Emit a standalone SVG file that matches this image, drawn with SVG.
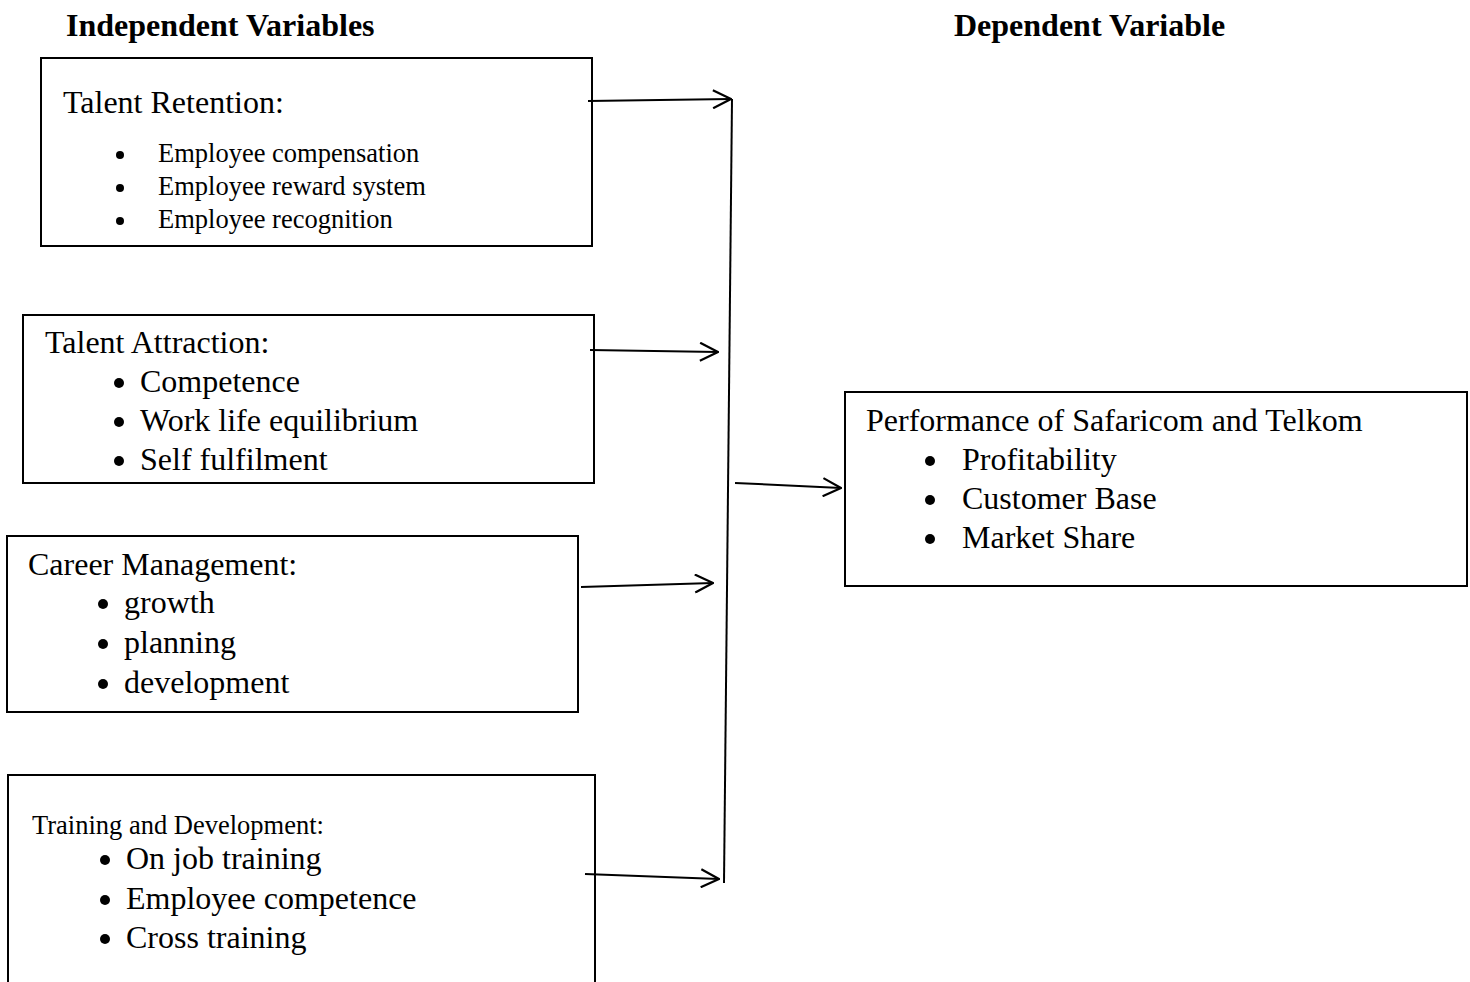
<svg xmlns="http://www.w3.org/2000/svg" width="1470" height="982" viewBox="0 0 1470 982">
<defs>
<style>
.box{fill:none;stroke:#000;stroke-width:2}
.t{font-family:"Liberation Serif","Times New Roman",serif;fill:#000}
.h{font-size:32px;font-weight:bold}
.m{font-size:32px}
.s{font-size:26.5px}
.c{stroke:#000;stroke-width:2;fill:none}
</style>
<marker id="ah" viewBox="0 0 20 20" refX="19" refY="10" markerWidth="20" markerHeight="20" markerUnits="userSpaceOnUse" orient="auto">
<path d="M1,1 L19,10 L1,19" fill="none" stroke="#000" stroke-width="2.2"/>
</marker>
</defs>
<rect width="1470" height="982" fill="#fff"/>
<text class="t h" x="66" y="36">Independent Variables</text>
<text class="t h" x="954" y="36">Dependent Variable</text>

<g id="talent-retention">
<rect class="box" x="41" y="58" width="551" height="188"/>
<text class="t m" x="63" y="113">Talent Retention:</text>
<circle cx="120" cy="155" r="4"/><text class="t s" x="158" y="162">Employee compensation</text>
<circle cx="120" cy="188" r="4"/><text class="t s" x="158" y="195">Employee reward system</text>
<circle cx="120" cy="221" r="4"/><text class="t s" x="158" y="228">Employee recognition</text>
</g>

<g id="talent-attraction">
<rect class="box" x="23" y="315" width="571" height="168"/>
<text class="t m" x="45" y="353">Talent Attraction:</text>
<circle cx="119" cy="383" r="5"/><text class="t m" x="140" y="392">Competence</text>
<circle cx="119" cy="422" r="5"/><text class="t m" x="140" y="431">Work life equilibrium</text>
<circle cx="119" cy="461" r="5"/><text class="t m" x="140" y="470">Self fulfilment</text>
</g>

<g id="career-management">
<rect class="box" x="7" y="536" width="571" height="176"/>
<text class="t m" x="28" y="575">Career Management:</text>
<circle cx="103" cy="604" r="5"/><text class="t m" x="124" y="613">growth</text>
<circle cx="103" cy="644" r="5"/><text class="t m" x="124" y="653">planning</text>
<circle cx="103" cy="684" r="5"/><text class="t m" x="124" y="693">development</text>
</g>

<g id="training-development">
<path class="box" d="M8,984 V775 H595 V984"/>
<text class="t s" x="32" y="834">Training and Development:</text>
<circle cx="105" cy="860" r="5"/><text class="t m" x="126" y="869">On job training</text>
<circle cx="105" cy="900" r="5"/><text class="t m" x="126" y="909">Employee competence</text>
<circle cx="105" cy="939" r="5"/><text class="t m" x="126" y="948">Cross training</text>
</g>

<g id="performance">
<rect class="box" x="845" y="392" width="622" height="194"/>
<text class="t m" x="866" y="431">Performance of Safaricom and Telkom</text>
<circle cx="930" cy="461" r="5"/><text class="t m" x="962" y="470">Profitability</text>
<circle cx="930" cy="500" r="5"/><text class="t m" x="962" y="509">Customer Base</text>
<circle cx="930" cy="539" r="5"/><text class="t m" x="962" y="548">Market Share</text>
</g>

<g id="connectors">
<line class="c" x1="732" y1="99" x2="724" y2="883"/>
<line class="c" x1="588" y1="101" x2="731" y2="99" marker-end="url(#ah)"/>
<line class="c" x1="590" y1="350" x2="718" y2="352" marker-end="url(#ah)"/>
<line class="c" x1="581" y1="587" x2="713" y2="583" marker-end="url(#ah)"/>
<line class="c" x1="585" y1="874" x2="719" y2="879" marker-end="url(#ah)"/>
<line class="c" x1="735" y1="483" x2="841" y2="488" marker-end="url(#ah)"/>
</g>
</svg>
